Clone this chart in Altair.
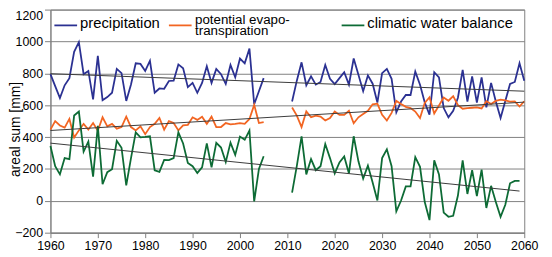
import altair as alt
import pandas as pd

# ---- data ----
years_a = list(range(1960, 2006))
years_b = list(range(2011, 2061))
years_b_cwb = list(range(2011, 2060))

precip_a = [795, 720, 645, 725, 770, 935, 996, 795, 815, 637,
            910, 631, 651, 678, 828, 801, 627, 730, 863, 859,
            815, 879, 678, 705, 703, 752, 754, 856, 832, 713,
            740, 678, 740, 844, 740, 828, 795, 733, 852, 775,
            893, 863, 955, 606, 688, 770]
precip_b = [623, 754, 869, 725, 781, 729, 746, 852, 766, 733,
            770, 807, 729, 893, 791, 688, 787, 735, 617, 801,
            828, 766, 555, 623, 664, 664, 811, 729, 617, 541,
            807, 775, 582, 524, 565, 647, 822, 623, 781, 617,
            775, 586, 740, 623, 520, 627, 733, 746, 863, 754]

pet_a = [447, 500, 473, 459, 514, 397, 442, 483, 447, 488,
         440, 524, 467, 483, 453, 463, 528, 463, 442, 467,
         418, 463, 483, 520, 447, 500, 488, 442, 473, 477,
         524, 508, 528, 483, 528, 463, 463, 488, 480, 483,
         488, 483, 514, 602, 488, 494]
pet_b = [586, 535, 463, 561, 524, 535, 528, 504, 520, 560,
         539, 539, 565, 487, 524, 545, 565, 606, 610, 540,
         504, 552, 627, 608, 590, 582, 560, 520, 615, 650,
         548, 598, 648, 628, 657, 600, 578, 582, 584, 586,
         580, 625, 608, 627, 635, 630, 622, 624, 592, 625]

cwb_a = [344, 217, 166, 268, 262, 535, 560, 309, 372, 152,
         470, 104, 180, 198, 377, 333, 97, 268, 430, 398,
         401, 405, 192, 182, 256, 255, 268, 430, 360, 238,
         217, 175, 210, 360, 210, 364, 334, 243, 365, 288,
         403, 383, 441, -4, 200, 280]
cwb_b = [51, 219, 405, 166, 262, 192, 217, 356, 268, 172,
         241, 278, 172, 405, 248, 139, 221, 115, 2, 268,
         323, 217, -66, 2, 90, 90, 274, 213, -8, -121,
         254, 166, -74, -100, -94, 33, 254, 43, 192, 29,
         196, -45, 94, -8, -100, -25, 110, 125, 125]

series_names = ["precipitation", "potential evapotranspiration", "climatic water balance"]
legend_labels = ["precipitation", ["potential evapo-", "transpiration"], "climatic water balance"]
colors = ["#2b3192", "#f26522", "#0d6b35"]

x_ticks = list(range(1960, 2061, 10))
y_ticks = list(range(-200, 1201, 200))

# ---- build long table ----
rows = []
segments = {
    "precipitation": [(years_a, precip_a), (years_b, precip_b)],
    "potential evapotranspiration": [(years_a, pet_a), (years_b, pet_b)],
    "climatic water balance": [(years_a, cwb_a), (years_b_cwb, cwb_b)],
}
for name, segs in segments.items():
    for k, (yrs, vals) in enumerate(segs):
        for yr, v in zip(yrs, vals):
            rows.append({"year": yr, "value": v, "series": name, "segment": f"{name}-{k}"})
df = pd.DataFrame(rows)

FONT = "Liberation Sans"

x_enc = alt.X("year:Q",
              scale=alt.Scale(domain=[1960, 2060], nice=False, zero=False),
              axis=alt.Axis(values=x_ticks, format="d", title=None, grid=False,
                            tickSize=5, labelPadding=2, labelFlush=False,
                            labelOverlap=False))
y_enc = alt.Y("value:Q",
              scale=alt.Scale(domain=[-200, 1200], nice=False, zero=False),
              axis=alt.Axis(values=y_ticks, format="d", title="areal sum [mm]", grid=True,
                            tickSize=6, labelPadding=2, labelOverlap=False,
                            labelFlush=False,
                            labelBaseline={"condition": {"test": "datum.value == 1200", "value": "top"},
                                           "value": "middle"},
                            titleX=-28, titleY=121, titleFontSize=14,
                            titleFontWeight="normal", titleFont=FONT,
                            titleColor="black"))

base = alt.Chart(df)

lines = base.mark_line(strokeWidth=1.8).encode(
    x=x_enc, y=y_enc,
    color=alt.Color("series:N", scale=alt.Scale(domain=series_names, range=colors), legend=None),
    detail="segment:N",
)

trends = base.transform_regression(
    "year", "value", groupby=["series"]
).mark_line(color="#3a3a3a", strokeWidth=1).encode(
    x=x_enc, y=y_enc, detail="series:N"
)

# ---- manual legend (inline at the top of the plot) ----
legend_layers = []
sw_x = [4, 120, 295]
txt_x = [30, 146.5, 321]
txt_y = [19, 14.5, 19]
for i, name in enumerate(series_names):
    one = alt.Chart(pd.DataFrame({"series": [name]}))
    legend_layers.append(
        one.mark_rule(color=colors[i], strokeWidth=1.8).encode(
            x=alt.value(sw_x[i]), x2=alt.value(sw_x[i] + 23), y=alt.value(16)
        )
    )
    legend_layers.append(
        one.mark_text(text=legend_labels[i], align="left", baseline="alphabetic",
                      font=FONT, fontSize=15 if i != 1 else 13.5, lineHeight=11.5,
                      color="black").encode(
            x=alt.value(txt_x[i]), y=alt.value(txt_y[i])
        )
    )

chart = alt.layer(lines, trends, *legend_layers).properties(
    width=480, height=226,
    autosize=alt.AutoSizeParams(type="none"),
    padding={"left": 43, "top": 0, "right": 20, "bottom": 22},
).configure_view(
    stroke="#808080", strokeWidth=1
).configure_axis(
    labelFont=FONT, labelFontSize=12.5, labelColor="black",
    domainColor="#808080", tickColor="#808080", gridColor="#808080",
    gridOpacity=1, domainWidth=1, tickWidth=1, gridWidth=1,
)

chart.save("out.html", embed_options={"renderer": "svg", "actions": False})
